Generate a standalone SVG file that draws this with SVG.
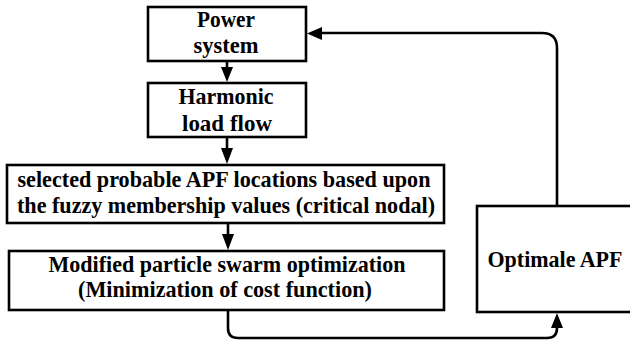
<svg xmlns="http://www.w3.org/2000/svg" width="630" height="341" viewBox="0 0 630 341" font-family="Liberation Serif, Times New Roman, serif">
  <defs>
    <style>
      .box { fill: #ffffff; stroke: #000000; stroke-width: 2.6; }
      .lbl { font-weight: bold; font-size: 23px; fill: #000000; text-anchor: middle; }
      .wire { fill: none; stroke: #000000; stroke-width: 2.6; }
      .head { fill: #000000; stroke: none; }
    </style>
  </defs>
  <rect width="630" height="341" fill="#ffffff"/>

  <g id="power-system">
    <rect class="box" x="148" y="7" width="158" height="54"/>
    <text class="lbl" font-family="Liberation Serif" x="226" y="27" textLength="58" lengthAdjust="spacingAndGlyphs">Power</text>
    <text class="lbl" font-family="Liberation Serif" x="226" y="53" textLength="65" lengthAdjust="spacingAndGlyphs">system</text>
  </g>

  <g id="harmonic-load-flow">
    <rect class="box" x="148" y="83" width="158" height="54"/>
    <text class="lbl" font-family="Liberation Serif" x="226" y="104" textLength="95" lengthAdjust="spacingAndGlyphs">Harmonic</text>
    <text class="lbl" font-family="Liberation Serif" x="227" y="131" textLength="90" lengthAdjust="spacingAndGlyphs">load flow</text>
  </g>

  <g id="apf-locations">
    <rect class="box" x="7" y="165" width="437" height="58"/>
    <text class="lbl" font-family="Liberation Serif" x="224" y="187" textLength="413" lengthAdjust="spacingAndGlyphs">selected probable APF locations based upon</text>
    <text class="lbl" font-family="Liberation Serif" x="226" y="213" textLength="418" lengthAdjust="spacingAndGlyphs">the fuzzy membership values (critical nodal)</text>
  </g>

  <g id="mpso">
    <rect class="box" x="9" y="251" width="435" height="59"/>
    <text class="lbl" font-family="Liberation Serif" x="227" y="272" textLength="357" lengthAdjust="spacingAndGlyphs">Modified particle swarm optimization</text>
    <text class="lbl" font-family="Liberation Serif" x="225" y="297" textLength="294" lengthAdjust="spacingAndGlyphs">(Minimization of cost function)</text>
  </g>

  <g id="optimal-apf">
    <rect class="box" x="477" y="206" width="160" height="106"/>
    <text class="lbl" font-family="Liberation Serif" x="555" y="267" textLength="135" lengthAdjust="spacingAndGlyphs">Optimale APF</text>
  </g>

  <g id="connectors">
    <!-- Power system to harmonic load flow -->
    <line class="wire" x1="227" y1="61" x2="227" y2="70"/>
    <polygon class="head" points="221,67 233,67 227,82"/>
    <!-- Harmonic load flow to APF locations -->
    <line class="wire" x1="227" y1="137" x2="227" y2="150"/>
    <polygon class="head" points="221,148 233,148 227,164"/>
    <!-- APF locations to MPSO -->
    <line class="wire" x1="228" y1="223" x2="228" y2="236"/>
    <polygon class="head" points="222,234 234,234 228,250"/>
    <!-- MPSO to optimal APF -->
    <path class="wire" d="M228,310 V328 Q228,338 238,338 H547 Q557,338 557,328 V326"/>
    <polygon class="head" points="551,328 563,328 557,313"/>
    <!-- Optimal APF back to power system -->
    <path class="wire" d="M557,206 V48 Q557,33 542,33 H318"/>
    <polygon class="head" points="322,27 322,40 307,33.5"/>
  </g>
</svg>
